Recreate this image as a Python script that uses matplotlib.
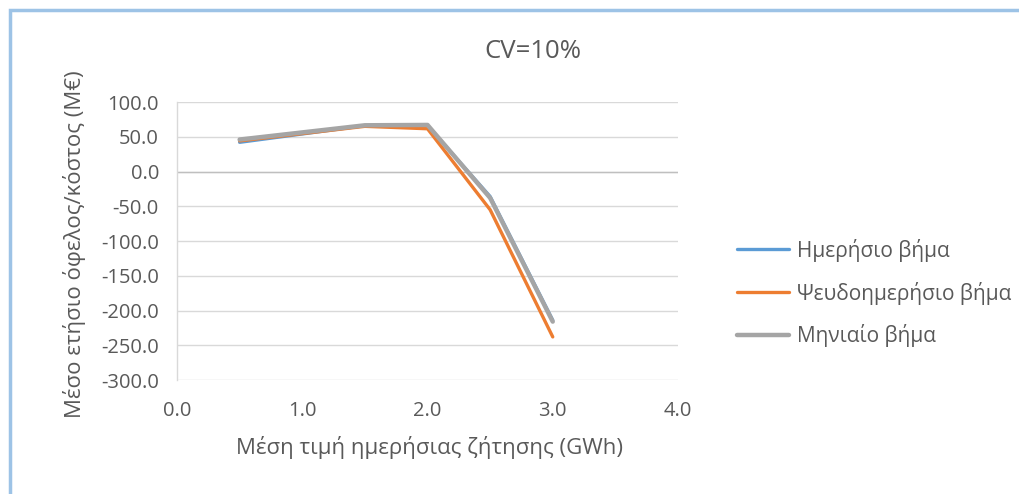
import matplotlib
matplotlib.use("Agg")
import matplotlib.pyplot as plt
from matplotlib.patches import Rectangle

x_vals = [0.5, 1.5, 2.0, 2.5, 3.0]
daily = [42.0, 66.0, 66.0, -36.0, -214.0]
pseudo_daily = [44.0, 65.0, 61.5, -55.0, -238.0]
monthly = [46.0, 66.5, 67.0, -38.0, -216.0]

series_names = ["Ημερήσιο βήμα", "Ψευδοημερήσιο βήμα", "Μηνιαίο βήμα"]
colors = ["#5B9BD5", "#ED7D31", "#A5A5A5"]
widths = [2.4, 2.4, 3.2]

title = "CV=10%"
xlabel = "Μέση τιμή ημερήσιας ζήτησης (GWh)"
ylabel = "Μέσο ετήσιο όφελος/κόστος (Μ€)"
xticks = [0.0, 1.0, 2.0, 3.0, 4.0]
yticks = [100, 50, 0, -50, -100, -150, -200, -250, -300]

plt.rcParams['font.family'] = ['Open Sans', 'DejaVu Sans']
txt = "#595959"

W, H = 1019, 494
fig = plt.figure(figsize=(W / 100, H / 100), dpi=100)
fig.patch.set_facecolor("white")

# chart border (light blue), extends beyond right/bottom
fig.add_artist(Rectangle((10 / W, -0.05), 1.2, 1 - 10 / H + 0.05,
                         transform=fig.transFigure, fill=False,
                         edgecolor="#9DC3E6", linewidth=2.5))

ax = fig.add_axes([177 / W, 1 - 380 / H, (678 - 177) / W, (380 - 102) / H])
for s, c, lw, name in zip([daily, pseudo_daily, monthly], colors, widths, series_names):
    ax.plot(x_vals, s, color=c, linewidth=lw, label=name,
            solid_capstyle="round", solid_joinstyle="round")

ax.set_xlim(0, 4)
ax.set_ylim(-300, 100)
ax.set_xticks(xticks)
ax.set_xticklabels([f"{v:.1f}" for v in xticks])
ax.set_yticks(yticks)
ax.set_yticklabels([f"{v:.1f}" for v in yticks])
ax.tick_params(axis="both", length=0, labelsize=14.5, labelcolor=txt)
ax.tick_params(axis="x", pad=15)
ax.tick_params(axis="y", pad=13)
ax.grid(axis="y", color="#D9D9D9", linewidth=1)
ax.set_axisbelow(True)
ax.axhline(0, color="#BFBFBF", linewidth=1, zorder=1)
for sp in ["top", "right", "bottom"]:
    ax.spines[sp].set_visible(False)
ax.spines["left"].set_color("#D9D9D9")
ax.spines["left"].set_linewidth(1)

fig.text(533 / W, 1 - 52 / H, title, ha="center", va="center", fontsize=18.5, color=txt)
fig.text(430 / W, 1 - 447 / H, xlabel, ha="center", va="center", fontsize=16, color=txt)
fig.text(75 / W, 1 - 244 / H, ylabel, ha="center", va="center", fontsize=16,
         color=txt, rotation=90)

handles, labels = ax.get_legend_handles_labels()
leg = fig.legend(handles, labels, loc="upper left", bbox_to_anchor=(718 / W, 1 - 220 / H),
                 frameon=False, fontsize=15, handlelength=2.5, handletextpad=0.4,
                 labelspacing=0.95)
for t in leg.get_texts():
    t.set_color(txt)

fig.savefig("out.png", dpi=100, facecolor="white")
